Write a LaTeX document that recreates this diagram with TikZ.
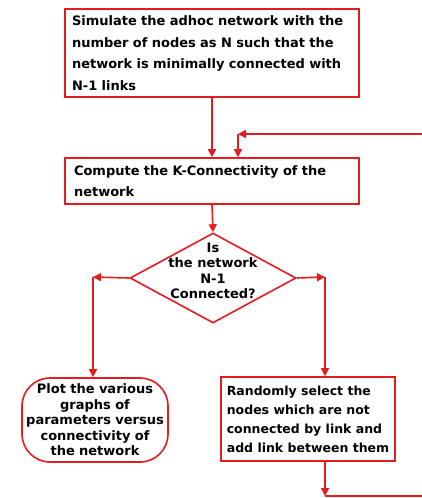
\documentclass[tikz,border=0pt]{standalone}
\usepackage{fontspec}
\setmainfont{DejaVu Sans}
\usetikzlibrary{shapes.geometric,arrows.meta}
\definecolor{fr}{RGB}{228,28,32}
\begin{document}
\begin{tikzpicture}[x=1pt,y=-1pt,
  every node/.style={font=\bfseries\fontsize{13}{21.5}\selectfont, text=black},
  box/.style={draw=fr, line width=1.6pt, fill=white, inner sep=0pt, align=left},
  conn/.style={draw=fr, line width=1.6pt, -{Triangle[length=8pt,width=8pt]}},
  plain/.style={draw=fr, line width=1.6pt}]
\useasboundingbox (0,0) rectangle (422,498);
\node[box, minimum width=294pt, minimum height=88pt, text width=280pt] (b1) at (212,53)
  {Simulate the adhoc network with the\\number of nodes as N such that the\\network is minimally connected with\\N-1 links};
\node[box, minimum width=294pt, minimum height=46pt, text width=276pt] (b2) at (212,181)
  {Compute the K-Connectivity of the\\network};
\node[draw=fr, line width=1.6pt, diamond, fill=white, minimum width=166pt, minimum height=90pt, inner sep=0pt] (d) at (213,278) {};
\node[align=center, inner sep=0pt, font=\bfseries\fontsize{13}{15.5}\selectfont] (dt) at (213,271)
  {Is\\the network\\N-1\\Connected?};
\node[box, rounded corners=28pt, minimum width=146pt, minimum height=84pt, text width=142pt, align=center,
  font=\bfseries\fontsize{13}{15.5}\selectfont] (p) at (95,420)
  {Plot the various\\graphs of\\parameters versus\\connectivity of\\the network};
\node[box, minimum width=174pt, minimum height=84pt,
  font=\bfseries\fontsize{12.5}{19}\selectfont] (r) at (308,419)
  {Randomly select the\\nodes which are not\\connected by link and\\add link between them};
\coordinate (inR) at (422,134);
\coordinate (turn) at (238,134);
\coordinate (lt) at (93,277);
\coordinate (rt) at (325,277);
\coordinate (bt) at (325,496);
\coordinate (outR) at (422,496);
\draw[conn] (b1.south) -- (b2.north);
\draw[conn] (inR) -- (turn);
\draw[conn] (turn) -- (turn |- b2.north);
\draw[conn] (b2.south) -- (d.north);
\draw[conn] (d.west) -- (lt);
\draw[conn] (lt) -- (lt |- p.north);
\draw[conn] (d.east) -- (rt);
\draw[conn] (rt) -- (rt |- r.north);
\draw[conn] (r.south -| bt) -- (bt);
\draw[plain] (bt) -- (outR);
\end{tikzpicture}
\end{document}
